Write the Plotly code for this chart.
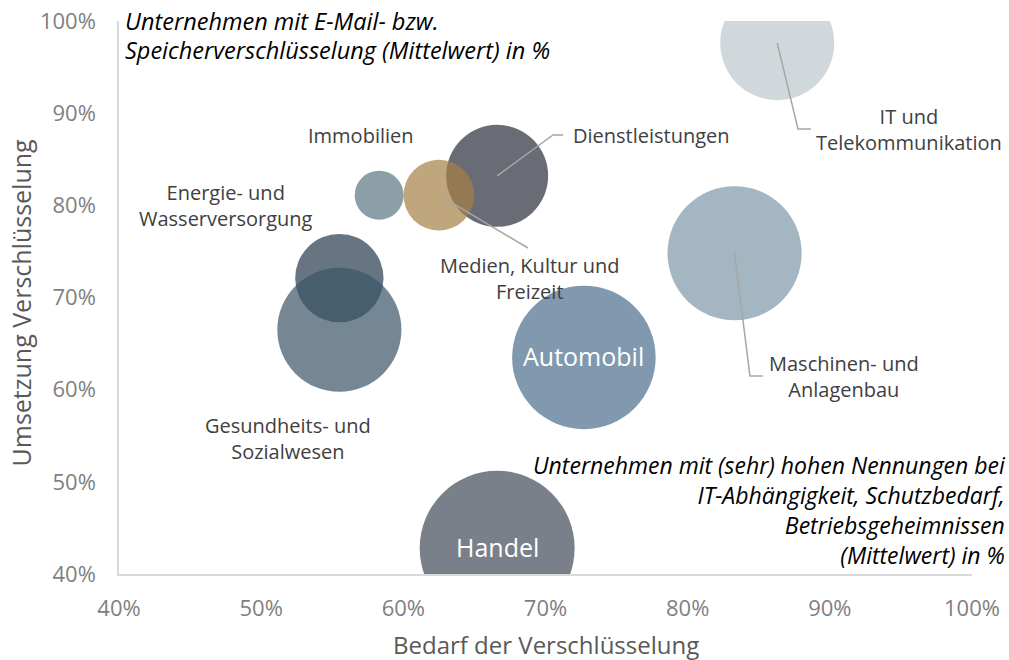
import plotly.graph_objects as go

# ---- data ----
branches = ["Energie- und Wasserversorgung", "Gesundheits- und Sozialwesen", "Dienstleistungen",
            "Medien, Kultur und Freizeit", "Immobilien", "Automobil", "Maschinen- und Anlagenbau",
            "IT und Telekommunikation", "Handel"]
bedarf = [55.5, 55.5, 66.6, 62.5, 58.3, 72.7, 83.3, 86.3, 66.6]        # x, %
umsetzung = [72.1, 66.5, 83.2, 81.1, 81.1, 63.5, 74.8, 97.6, 42.8]     # y, %
schutz = [19.5, 38.5, 26.0, 12.5, 6.0, 51.5, 45.0, 32.5, 60.0]          # bubble size
colors = ["#263a4f", "#3b5466", "#292c3b", "#a58044", "#5b7680", "#4c6d8b", "#7e97a8", "#bcc7cd", "#414a59"]
x_ticks = [40, 50, 60, 70, 80, 90, 100]
y_ticks = [40, 50, 60, 70, 80, 90, 100]

FONT = "Open Sans"
LABEL_COLOR = "#404040"
LEADER = "#a6a6a6"

fig = go.Figure()
fig.add_trace(go.Scatter(
    x=bedarf, y=umsetzung, mode="markers",
    marker=dict(size=schutz, sizemode="area", sizeref=0.005, color=colors, opacity=0.7,
                line=dict(width=0)),
    text=branches, hoverinfo="text", showlegend=False, cliponaxis=True,
))

idx = {b: i for i, b in enumerate(branches)}

# leader lines: from bubble centre to label anchor (elbow + short horizontal)
leaders = {
    "Dienstleistungen": [(70.53, 87.63), (71.23, 87.63)],
    "Medien, Kultur und Freizeit": [(68.77, 75.37)],
    "IT und Telekommunikation": [(87.76, 88.28), (88.67, 88.28)],
    "Maschinen- und Anlagenbau": [(84.38, 61.48), (85.29, 61.48)],
}
for name, pts in leaders.items():
    i = idx[name]
    xs = [bedarf[i]] + [p[0] for p in pts]
    ys = [umsetzung[i]] + [p[1] for p in pts]
    fig.add_trace(go.Scatter(x=xs, y=ys, mode="lines", line=dict(color=LEADER, width=1.5),
                             hoverinfo="skip", showlegend=False))

# category labels: (text, x, y, anchor)
labels = [
    ("Immobilien", 57.02, 87.63, "center"),
    ("Energie- und<br>Wasserversorgung", 47.53, 79.98, "center"),
    ("Gesundheits- und<br>Sozialwesen", 51.89, 54.70, "center"),
    ("Dienstleistungen", 71.93, 87.63, "left"),
    ("Medien, Kultur und<br>Freizeit", 68.84, 72.06, "center"),
    ("IT und<br>Telekommunikation", 95.57, 88.23, "center"),
    ("Maschinen- und<br>Anlagenbau", 91.0, 61.43, "center"),
]
annotations = []
for txt, ax_, ay_, al in labels:
    annotations.append(dict(x=ax_, y=ay_, xref="x", yref="y", text=txt, showarrow=False,
                            xanchor=al, yanchor="middle", align=al, yshift=0,
                            xshift=-2 if al == "left" else 0,
                            font=dict(family=FONT, size=20, color=LABEL_COLOR)))
for name in ["Automobil", "Handel"]:
    i = idx[name]
    annotations.append(dict(x=bedarf[i], y=umsetzung[i], xref="x", yref="y", text=name,
                            showarrow=False, xanchor="center", yanchor="middle", yshift=1,
                            font=dict(family=FONT, size=25, color="white")))

# bubble-chart explanation texts (italic), placed relative to the plot area
note_lines = [
    ("Unternehmen mit E-Mail- bzw.", 0.007, 1.0, "left"),
    ("Speicherverschlüsselung (Mittelwert) in %", 0.007, 0.9476, "left"),
]
for txt, ax_, ay_, al in note_lines:
    annotations.append(dict(x=ax_, y=ay_, xref="paper", yref="paper", text=f"<i>{txt}</i>",
                            showarrow=False, xanchor=al, yanchor="middle", yshift=0, xshift=-2,
                            font=dict(family=FONT, size=23.5, color="#000000")))
annotations.append(dict(
    x=1.0363, y=0.1166, xref="paper", yref="paper", xanchor="right", yanchor="middle", align="right",
    text="<i>Unternehmen mit (sehr) hohen Nennungen bei<br>IT-Abhängigkeit, Schutzbedarf,<br>"
         "Betriebsgeheimnissen<br>(Mittelwert) in %</i>",
    showarrow=False, xshift=5, font=dict(family=FONT, size=23, color="#000000")))

# axis titles
annotations.append(dict(x=0.5, y=-0.1266, xref="paper", yref="paper", text="Bedarf der Verschlüsselung",
                        showarrow=False, xanchor="center", yanchor="middle",
                        font=dict(family=FONT, size=24, color="#595959")))
annotations.append(dict(x=-0.1149, y=0.491, xref="paper", yref="paper", text="Umsetzung Verschlüsselung",
                        showarrow=False, xanchor="center", yanchor="middle", textangle=-90,
                        font=dict(family=FONT, size=25, color="#595959")))

fig.update_layout(
    width=1009, height=660,
    margin=dict(l=119, r=37, t=21, b=86),
    paper_bgcolor="white", plot_bgcolor="white",
    font=dict(family=FONT),
    annotations=annotations,
    xaxis=dict(range=[40, 100], tickvals=x_ticks, ticktext=[f"{v}%" for v in x_ticks],
               showgrid=False, zeroline=False, showline=True, linecolor="#d9d9d9", linewidth=1.5,
               ticks="", ticklabelstandoff=14, automargin=False,
               tickfont=dict(family=FONT, size=22, color="#7f7f7f")),
    yaxis=dict(range=[40, 100], tickvals=y_ticks, ticktext=[f"{v}%" for v in y_ticks],
               showgrid=False, zeroline=False, showline=True, linecolor="#d9d9d9", linewidth=1.5,
               ticks="", ticklabelstandoff=17, automargin=False,
               tickfont=dict(family=FONT, size=22, color="#7f7f7f")),
)

fig.write_html("out.html", config={"displayModeBar": False},
               post_script="document.body.style.margin='0';")
